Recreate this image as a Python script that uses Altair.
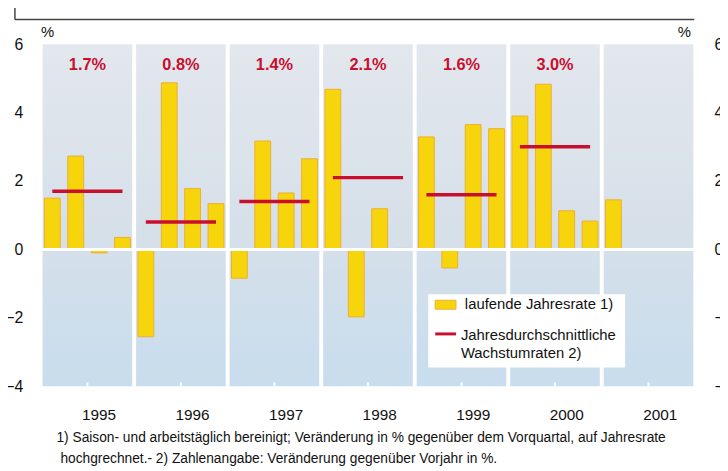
import altair as alt
import pandas as pd

# ---------------- data ----------------
years = ["1995", "1996", "1997", "1998", "1999", "2000", "2001"]
quarter_rates = [1.50, 2.73, -0.10, 0.35,
                 -2.55, 4.87, 1.78, 1.34,
                 -0.84, 3.17, 1.65, 2.65,
                 4.68, -1.97, 1.19, 0.03,
                 3.29, -0.54, 3.65, 3.53,
                 3.90, 4.83, 1.13, 0.83,
                 1.45]
annual_avg = [1.7, 0.8, 1.4, 2.1, 1.6, 3.0]
annual_labels = ["1.7%", "0.8%", "1.4%", "2.1%", "1.6%", "3.0%"]
y_ticks = [-4, -2, 0, 2, 4, 6]
inner_ticks = [-2, 2, 4]
legend_labels = ["laufende Jahresrate 1)", "Jahresdurchschnittliche", "Wachstumraten 2)"]
footnotes = [
    "1) Saison- und arbeitstäglich bereinigt; Veränderung in % gegenüber dem Vorquartal, auf Jahresrate",
    "hochgrechnet.- 2) Zahlenangabe: Veränderung gegenüber Vorjahr in %.",
]

# ---------------- tables ----------------
bars = pd.DataFrame({"q": [i + 0.5 for i in range(len(quarter_rates))], "v": quarter_rates})
panels = pd.DataFrame({
    "x0": [4 * k + 1 / 12 for k in range(len(years))],
    "x1": [4 * k + 4 - 1 / 12 for k in range(len(years))],
    "yc": [4 * k + 2 for k in range(len(years))],
    "lab": [4 * k + 2.5 for k in range(len(years))],
    "year": years,
})
avgs = pd.DataFrame({
    "x0": [4 * k + 0.5 for k in range(len(annual_avg))],
    "x1": [4 * k + 3.5 for k in range(len(annual_avg))],
    "xc": [4 * k + 2 for k in range(len(annual_avg))],
    "v": annual_avg,
    "t": annual_labels,
})
ticks_df = pd.DataFrame({"y": inner_ticks})

W, H = 672, 346
RED = "#c8102e"
FONT = "Liberation Sans"

xs = alt.Scale(domain=[0, 28], nice=False, zero=False)
ys = alt.Scale(domain=[-4, 6], nice=False, zero=False)


def X(field):
    return alt.X(field, scale=xs, axis=None)


def Y(field):
    return alt.Y(field, scale=ys, axis=None)


grad = alt.Gradient(
    gradient="linear",
    stops=[alt.GradientStop(color="#e3e7ee", offset=0),
           alt.GradientStop(color="#d6e0e9", offset=0.55),
           alt.GradientStop(color="#c8ddee", offset=1)],
    x1=0, x2=0, y1=0, y2=1,
)

panel_layer = alt.Chart(panels).mark_rect(fill=grad).encode(
    x=X("x0:Q"), x2="x1:Q",
    y=alt.value(0), y2=alt.value(H),
)

zero_line = alt.Chart(pd.DataFrame({"y": [0]})).mark_rule(color="white", strokeWidth=3).encode(
    y=alt.Y("y:Q", scale=ys,
            axis=alt.Axis(values=y_ticks, title=None, domain=False, ticks=False, grid=False,
                          labelFontSize=16, labelFont=FONT, labelColor="#111", labelPadding=13,
                          orient="left")),
    x=alt.value(0), x2=alt.value(W),
)

right_axis = alt.Chart(pd.DataFrame({"y": [0]})).mark_rule(opacity=0).encode(
    y=alt.Y("y:Q", scale=ys,
            axis=alt.Axis(values=y_ticks, title=None, domain=False, ticks=False, grid=False,
                          labelFontSize=16, labelFont=FONT, labelColor="#111", labelPadding=14,
                          orient="right")),
    x=alt.value(0), x2=alt.value(1),
)

left_ticks = alt.Chart(ticks_df).mark_rule(color="white", strokeWidth=2).encode(
    y=Y("y:Q"), x=alt.value(2), x2=alt.value(6))
right_ticks = alt.Chart(ticks_df).mark_rule(color="white", strokeWidth=2).encode(
    y=Y("y:Q"), x=alt.value(W - 5), x2=alt.value(W))
bottom_ticks = alt.Chart(panels).mark_rule(color="white", strokeWidth=2).encode(
    x=X("yc:Q"), y=alt.value(H - 4), y2=alt.value(H))

bar_layer = alt.Chart(bars).mark_bar(size=16, color="#f6d50c", stroke="#efae32", strokeWidth=1).encode(
    x=X("q:Q"),
    y=Y("v:Q"),
    y2=alt.datum(0),
)

avg_layer = alt.Chart(avgs).mark_rule(color=RED, strokeWidth=3.5).encode(
    x=X("x0:Q"), x2="x1:Q",
    y=Y("v:Q"),
)

pct_layer = alt.Chart(avgs).mark_text(color=RED, fontSize=16.5, fontWeight="bold", font=FONT,
                                      baseline="middle").encode(
    x=X("xc:Q"),
    y=alt.value(21),
    text="t:N",
)

year_layer = alt.Chart(panels).mark_text(fontSize=15.5, font=FONT, color="#111", baseline="middle").encode(
    x=X("lab:Q"),
    y=alt.value(375),
    text="year:N",
)

pct_units = alt.Chart(pd.DataFrame({"t": ["%", "%"], "px": [12, 656]})).mark_text(
    fontSize=15, font=FONT, color="#111", baseline="middle").encode(
    x=alt.X("px:Q", scale=None, axis=None), y=alt.value(-12), text="t:N")

foot_layer = alt.Chart(pd.DataFrame({"t": footnotes, "px": [21, 25], "py": [398, 420]})).mark_text(
    fontSize=13.9, font=FONT, color="#111", align="left", baseline="middle").encode(
    x=alt.X("px:Q", scale=None, axis=None), y=alt.Y("py:Q", scale=None, axis=None), text="t:N")

frame_h = alt.Chart(pd.DataFrame({"a": [0]})).mark_rule(color="#444", strokeWidth=1.5).encode(
    x=alt.value(-21), x2=alt.value(666), y=alt.value(-25))
frame_v = alt.Chart(pd.DataFrame({"a": [0]})).mark_rule(color="#444", strokeWidth=1.5).encode(
    x=alt.value(-21), y=alt.value(-45), y2=alt.value(-25))

# legend (manual)
leg_box = alt.Chart(pd.DataFrame({"a": [0]})).mark_rect(color="white").encode(
    x=alt.value(397), x2=alt.value(596), y=alt.value(253), y2=alt.value(327))
leg_sw = alt.Chart(pd.DataFrame({"a": [0]})).mark_rect(color="#f6d50c", stroke="#efae32", strokeWidth=1).encode(
    x=alt.value(404), x2=alt.value(425), y=alt.value(259), y2=alt.value(268))
leg_line = alt.Chart(pd.DataFrame({"a": [0]})).mark_rule(color=RED, strokeWidth=3).encode(
    x=alt.value(404), x2=alt.value(425), y=alt.value(293))
leg_text = alt.Chart(pd.DataFrame({"t": legend_labels, "px": [434, 430, 430], "py": [263, 294, 312]})).mark_text(
    fontSize=15, font=FONT, color="#111", align="left", baseline="middle").encode(
    x=alt.X("px:Q", scale=None, axis=None), y=alt.Y("py:Q", scale=None, axis=None), text="t:N")

chart = alt.layer(
    panel_layer, bar_layer, zero_line, right_axis, left_ticks, right_ticks, bottom_ticks,
    avg_layer, pct_layer, year_layer, pct_units, foot_layer, frame_h, frame_v,
    leg_box, leg_sw, leg_line, leg_text,
).resolve_axis(y="independent").properties(
    width=W, height=H,
    padding={"left": 28, "top": 34, "right": 20, "bottom": 80},
    autosize=alt.AutoSizeParams(type="none"),
    background="white",
).configure_view(stroke=None)

chart.save("out.html", embed_options={"renderer": "svg", "actions": False})
